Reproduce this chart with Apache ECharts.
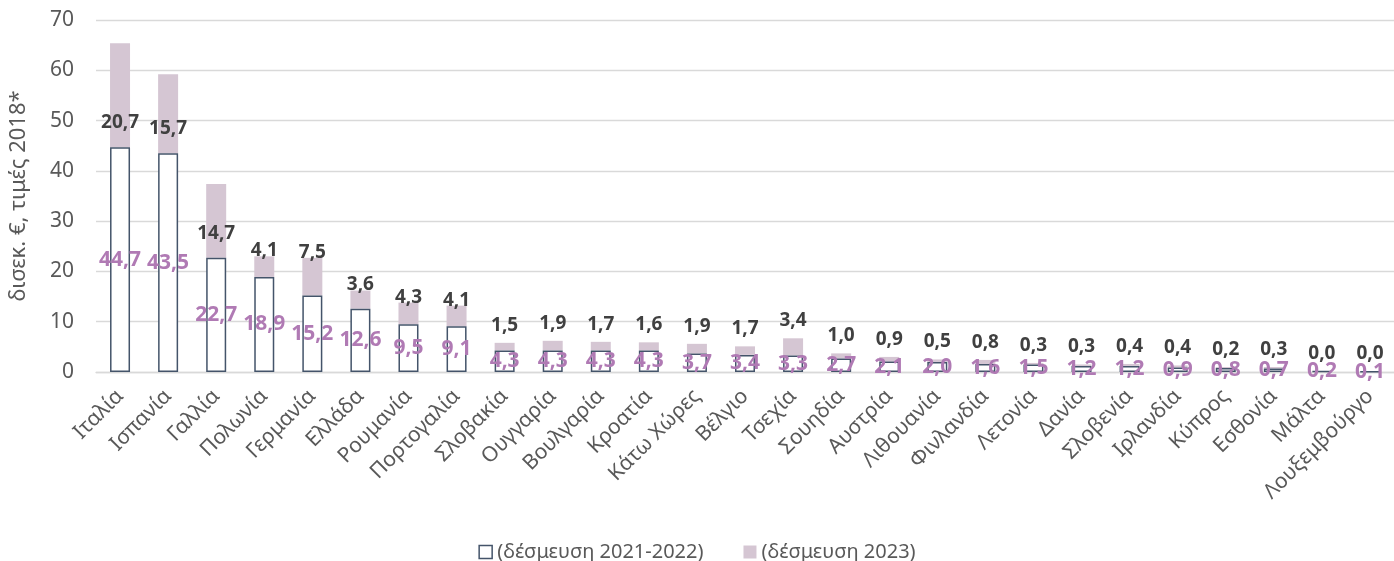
<!DOCTYPE html>
<html>
<head>
<meta charset="utf-8">
<script src="https://cdn.jsdelivr.net/npm/echarts@6/dist/echarts.min.js"></script>
<style>html,body{margin:0;padding:0;background:#fff}#c{width:1394px;height:561px}</style>
</head>
<body>
<div id="c"></div>
<script>
var categories = ['Ιταλία','Ισπανία','Γαλλία','Πολωνία','Γερμανία','Ελλάδα','Ρουμανία','Πορτογαλία','Σλοβακία','Ουγγαρία','Βουλγαρία','Κροατία','Κάτω Χώρες','Βέλγιο','Τσεχία','Σουηδία','Αυστρία','Λιθουανία','Φινλανδία','Λετονία','Δανία','Σλοβενία','Ιρλανδία','Κύπρος','Εσθονία','Μάλτα','Λουξεμβούργο'];
var commit2122 = [44.7,43.5,22.7,18.9,15.2,12.6,9.5,9.1,4.3,4.3,4.3,4.3,3.7,3.4,3.3,2.7,2.1,2.0,1.6,1.5,1.2,1.2,0.9,0.8,0.7,0.2,0.1];
var commit2023 = [20.7,15.7,14.7,4.1,7.5,3.6,4.3,4.1,1.5,1.9,1.7,1.6,1.9,1.7,3.4,1.0,0.9,0.5,0.8,0.3,0.3,0.4,0.4,0.2,0.3,0.0,0.0];
var yTicks = {min: 0, max: 70, interval: 10};
var seriesNames = ['(δέσμευση 2021-2022)', '(δέσμευση 2023)'];
var yName = 'δισεκ. €, τιμές 2018*';

var FONT = '"Noto Sans", "Open Sans", sans-serif';
function fmt(p){ return Number(p.value).toFixed(1).replace('.', ','); }

// label placement style for the 2023 segment labels (by rank group)
var topData = commit2023.map(function(v, i){
  if (i < 3) return {value: v, label: {position: 'insideBottom', distance: 15}};
  if (i < 8) return {value: v, label: {position: 'top', distance: -4}};
  return v;
});

var chart = echarts.init(document.getElementById('c'));
chart.setOption({
  animation: false,
  grid: {left: 92, right: 0, top: 20, bottom: 189},
  legend: {
    top: 537,
    left: 'center',
    itemWidth: 13,
    itemHeight: 13,
    itemGap: 40,
    textStyle: {fontFamily: FONT, fontSize: 20, color: '#595959'},
    data: [
      {name: seriesNames[0], icon: 'rect', itemStyle: {color: '#fff', borderColor: '#44546A', borderWidth: 1.5}},
      {name: seriesNames[1], icon: 'rect'}
    ]
  },
  xAxis: {
    type: 'category',
    data: categories,
    axisLine: {lineStyle: {color: '#D9D9D9', width: 1.3}},
    axisTick: {show: false},
    axisLabel: {rotate: 45, interval: 0, fontFamily: FONT, fontSize: 21, color: '#595959', margin: 21}
  },
  yAxis: {
    type: 'value',
    min: yTicks.min, max: yTicks.max, interval: yTicks.interval,
    name: yName,
    nameLocation: 'middle',
    nameRotate: 90,
    nameGap: 66,
    nameTextStyle: {fontFamily: FONT, fontSize: 22, color: '#595959'},
    axisLine: {show: false},
    axisTick: {show: false},
    axisLabel: {fontFamily: FONT, fontSize: 21, color: '#595959', margin: 22},
    splitLine: {lineStyle: {color: '#D9D9D9', width: 1.3}}
  },
  series: [
    {
      name: seriesNames[0],
      type: 'bar',
      stack: 'a',
      barWidth: 20,
      data: commit2122,
      itemStyle: {color: '#FFFFFF', borderColor: '#44546A', borderWidth: 1.5},
      label: {show: true, position: 'inside', formatter: fmt, fontFamily: FONT, fontSize: 21, fontWeight: 'bold', color: '#B07AB4'},
      z: 3
    },
    {
      name: seriesNames[1],
      type: 'bar',
      stack: 'a',
      barWidth: 20,
      data: topData,
      itemStyle: {color: '#D5C6D3'},
      label: {show: true, position: 'top', distance: 8, formatter: fmt, fontFamily: FONT, fontSize: 19, fontWeight: 'bold', color: '#404040'},
      z: 2
    }
  ]
});
</script>
</body>
</html>
